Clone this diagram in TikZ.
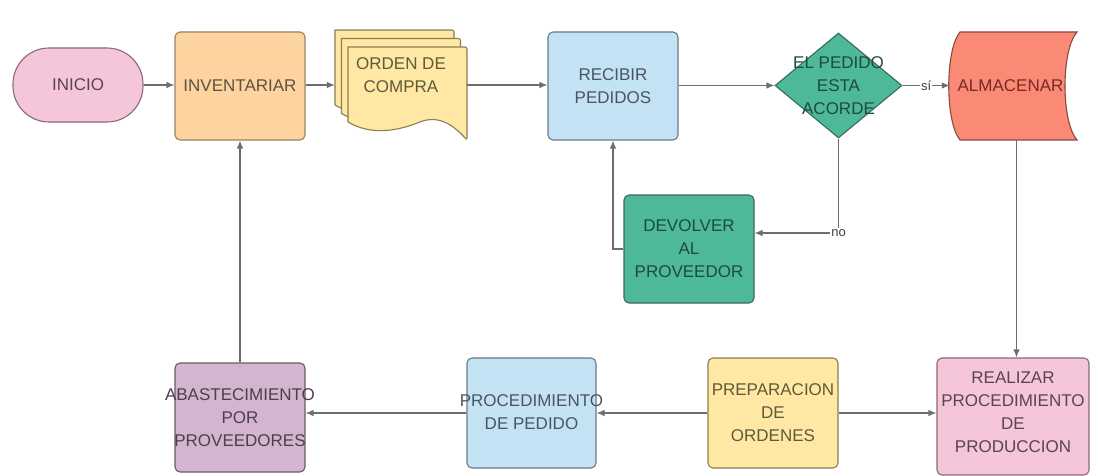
\documentclass[tikz,border=0pt]{standalone}
\usepackage{fontspec}
\setmainfont{Liberation Sans}
\usetikzlibrary{arrows.meta,shapes.geometric}
\definecolor{linegray}{HTML}{6E6E6E}
\definecolor{pinkF}{HTML}{F5C6DA}\definecolor{pinkD}{HTML}{8A6A78}\definecolor{pinkT}{HTML}{5B4352}
\definecolor{orangeF}{HTML}{FDD49F}\definecolor{orangeD}{HTML}{9A8262}\definecolor{orangeT}{HTML}{5E5240}
\definecolor{yellowF}{HTML}{FFE8A3}\definecolor{yellowD}{HTML}{8C7E52}\definecolor{yellowT}{HTML}{5E5A3A}
\definecolor{blueF}{HTML}{C3E3F5}\definecolor{blueD}{HTML}{6A7A88}\definecolor{blueT}{HTML}{4A5560}
\definecolor{tealF}{HTML}{4DB89A}\definecolor{tealD}{HTML}{3A6A5A}\definecolor{tealT}{HTML}{1F4A3E}
\definecolor{salmonF}{HTML}{FA8A76}\definecolor{salmonD}{HTML}{8A4A40}\definecolor{salmonT}{HTML}{7A2A22}
\definecolor{purpleF}{HTML}{D3B5D0}\definecolor{purpleD}{HTML}{6A5A6A}\definecolor{purpleT}{HTML}{4D3F4D}
\tikzset{
  box/.style={draw, line width=1.1pt, rounded corners=5pt, inner sep=0pt, minimum width=130pt, minimum height=108pt},
  txt/.style={font=\fontsize{17}{23}\selectfont, align=center, inner sep=0pt},
  conn/.style={draw=linegray, line width=1.1pt, -{Latex[length=8pt,width=6.5pt]}},
  plain/.style={draw=linegray, line width=1.1pt},
  lbl/.style={fill=white, inner sep=1pt, font=\fontsize{13}{15}\selectfont, text=black!75},
  docpage/.pic={
    \path[fill=yellowF, draw=yellowD, line width=1.1pt, rounded corners=2pt]
      (0,0) -- (119,0) -- (119,93)
      [sharp corners] .. controls (107,80) and (92,67) .. (72,75)
      .. controls (47,85) and (22,88) .. (0,75) -- cycle;
  }
}
\begin{document}
\begin{tikzpicture}[x=1pt,y=-1pt]
\useasboundingbox (0,0) rectangle (1098,476);
\fill[white] (0,0) rectangle (1098,476);

% top row
\node[box, rounded corners=36pt, fill=pinkF, draw=pinkD, minimum height=74pt,
  label={[txt, text=pinkT]center:INICIO}] (ini) at (78,85) {};
\node[box, fill=orangeF, draw=orangeD,
  label={[txt, text=orangeT]center:INVENTARIAR}] (inv) at (240,86) {};

% stacked documents
\pic at (335,30) {docpage};
\pic at (341.5,38.5) {docpage};
\pic at (348,47) {docpage};
\node[minimum width=132pt, minimum height=110pt, inner sep=0pt,
  label={[txt, text=yellowT, yshift=10pt]center:ORDEN DE\\COMPRA}] (ord) at (401,85) {};

\node[box, fill=blueF, draw=blueD,
  label={[txt, text=blueT]center:RECIBIR\\PEDIDOS}] (rec) at (613,86) {};

\node[diamond, draw=tealD, fill=tealF, line width=1.1pt, inner sep=0pt,
  minimum width=127pt, minimum height=105pt,
  label={[txt, text=tealT]center:EL PEDIDO\\ESTA\\ACORDE}] (dia) at (838.5,85.5) {};

% almacenar (stored data)
\path[fill=salmonF, draw=salmonD, line width=1.1pt]
  (960,32) -- (1077,32) .. controls (1061,50) and (1061,122) .. (1077,140)
  -- (960,140) .. controls (945,122) and (945,50) .. (960,32) -- cycle;
\node[minimum width=127pt, minimum height=108pt, inner sep=0pt,
  label={[txt, text=salmonT, xshift=-3pt]center:ALMACENAR}] (alm) at (1013.5,86) {};

% middle
\node[box, fill=tealF, draw=tealD,
  label={[txt, text=tealT]center:DEVOLVER\\AL\\PROVEEDOR}] (dev) at (689,249) {};

% bottom row
\node[box, fill=purpleF, draw=purpleD, minimum height=109pt,
  label={[txt, text=purpleT]center:ABASTECIMIENTO\\POR\\PROVEEDORES}] (aba) at (240,417.5) {};
\node[box, fill=blueF, draw=blueD, minimum width=129pt, minimum height=110pt,
  label={[txt, text=blueT, yshift=1pt]center:PROCEDIMIENTO\\DE PEDIDO}] (pro) at (531.5,413) {};
\node[box, fill=yellowF, draw=yellowD, minimum height=110pt,
  label={[txt, text=yellowT]center:PREPARACION\\DE\\ORDENES}] (pre) at (773,413) {};
\node[box, fill=pinkF, draw=pinkD, minimum width=152pt, minimum height=117pt,
  label={[txt, text=pinkT, yshift=4pt]center:REALIZAR\\PROCEDIMIENTO\\DE\\PRODUCCION}] (rea) at (1013,416.5) {};

% connectors
\draw[conn] (ini.east) -- (ini.east -| inv.west);
\draw[conn] (inv.east |- ord.west) -- (ord.west);
\draw[conn] (ord.east) -- (ord.east -| rec.west);
\draw[conn] (rec.east |- dia.west) -- (dia.west);
\draw[conn] (dia.east) -- node[lbl]{sí} (dia.east -| alm.west);
\draw[conn] (dia.south) |- node[lbl, pos=0.5]{no} ([yshift=16pt]dev.east);
\draw[conn] (dev.west) -| (rec.south);
\draw[conn] ([xshift=3pt]alm.south) -- ([xshift=3pt]alm.south |- rea.north);
\draw[conn] (pre.east) -- (pre.east -| rea.west);
\draw[conn] (pre.west) -- (pre.west -| pro.east);
\draw[conn] (pro.west) -- (pro.west -| aba.east);
\draw[conn] (aba.north) -- (inv.south);
\end{tikzpicture}
\end{document}
